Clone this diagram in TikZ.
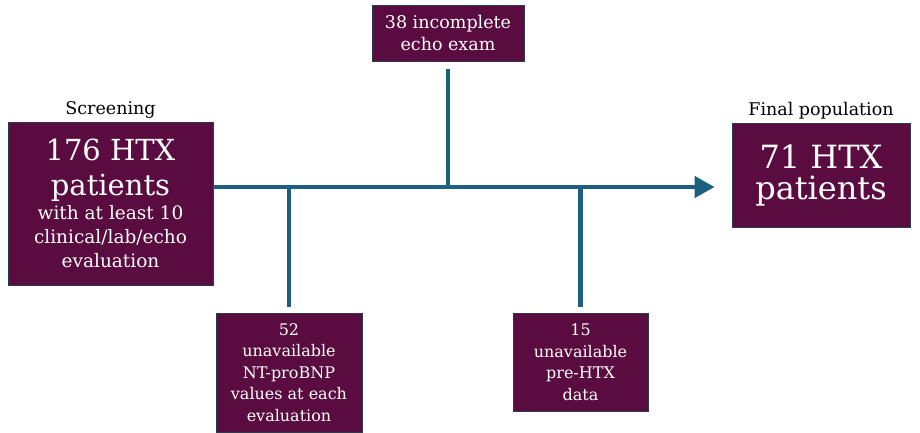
\documentclass[tikz,border=0pt]{standalone}
\usepackage{fontspec}
\setmainfont{DejaVu Serif}
\usetikzlibrary{positioning,arrows.meta}

\newcommand{\bigtxt}{\fontsize{29}{33}\selectfont}

\begin{document}
\begin{tikzpicture}[x=1pt,y=-1pt,
  box/.style={draw=boxline,line width=.8pt,fill=plum,text=white,align=center,inner sep=2pt,
    font=\fontsize{16}{21.5}\selectfont},
  lbl/.style={font=\fontsize{17.5}{20}\selectfont,text=black},
  flow/.style={draw=flowblue,line width=4.5pt},
  arr/.style={flow,-{Triangle[length=20pt,width=21pt]}}]
\definecolor{plum}{HTML}{5A0C41}
\definecolor{boxline}{HTML}{2E3A4C}
\definecolor{flowblue}{HTML}{1D5F7E}
\useasboundingbox (0,0) rectangle (920,433);
\node[box,minimum width=205,minimum height=163,font=\fontsize{18.5}{24}\selectfont] (screen) at (110.5,203.5)
  {\bigtxt 176 HTX\\[11pt]\bigtxt patients\\with at least 10\\clinical/lab/echo\\evaluation};
\node[lbl,above=0pt of screen] (screenlbl) {Screening};
\node[box,minimum width=178,minimum height=104,font=\fontsize{32}{31}\selectfont] (final) at (821,175)
  {71 HTX\\patients};
\node[lbl,above=0pt of final] (finallbl) {Final population};
\node[box,minimum width=152,minimum height=56,font=\fontsize{17.5}{22}\selectfont] (echo) at (448,33)
  {38 incomplete\\echo exam};
\node[box,minimum width=146,minimum height=119] (bnp) at (289,372.5)
  {52\\unavailable\\NT-proBNP\\values at each\\evaluation};
\node[box,minimum width=135,minimum height=98] (prehtx) at (580.5,362)
  {15\\unavailable\\pre-HTX\\data};
\coordinate (spine) at (0,187);
\draw[arr,shorten >=17pt] (screen.east |- spine) -- (final.west |- spine);
\draw[flow,shorten <=8pt] (echo.south) -- (echo.south |- spine);
\draw[flow,shorten >=6pt] (bnp.north |- spine) -- (bnp.north);
\draw[flow,shorten >=6pt] (prehtx.north |- spine) -- (prehtx.north);
\end{tikzpicture}
\end{document}
